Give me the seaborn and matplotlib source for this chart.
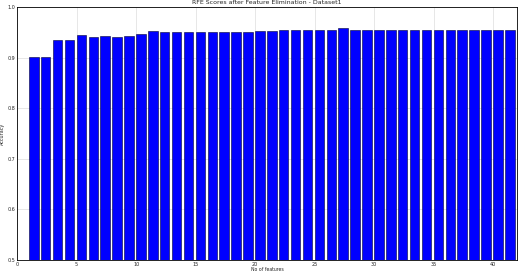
import matplotlib
matplotlib.use("Agg")
import matplotlib.pyplot as plt
import seaborn as sns
import numpy as np
import pandas as pd

n_features = list(range(1, 42))
scores = [0.902, 0.902, 0.934, 0.934, 0.945, 0.941, 0.943, 0.941, 0.943, 0.946,
          0.952, 0.950, 0.950, 0.950, 0.950, 0.950, 0.950, 0.950, 0.950, 0.953,
          0.953, 0.954, 0.954, 0.954, 0.954, 0.954, 0.958, 0.955, 0.955, 0.955,
          0.955, 0.955, 0.955, 0.955, 0.955, 0.955, 0.955, 0.955, 0.955, 0.955,
          0.955]
title = "RFE Scores after Feature Elimination - Dataset1"
xlabel = "No of features"
ylabel = "Accuracy"

sns.set_style("white")
plt.rcParams['font.family'] = ['DejaVu Sans']

bar_width = 0.8
df = pd.DataFrame({"features": n_features, "score": scores})
df["pos"] = df["features"] + bar_width / 2  # edge-aligned bars

fig = plt.figure(figsize=(5.19, 2.72), dpi=100)
ax = fig.add_axes([0.033, 0.044, 0.963, 0.930])
sns.barplot(data=df, x="pos", y="score", native_scale=True, width=bar_width,
            color="#0000ff", saturation=1, edgecolor="#000033", linewidth=0.4, ax=ax)

ax.set_xlim(0, 42)
ax.set_ylim(0.5, 1.0)
ax.set_xticks(range(0, 45, 5))
ax.set_yticks(np.arange(0.5, 1.01, 0.1))
ax.set_yticklabels([f"{v:.1f}" for v in np.arange(0.5, 1.01, 0.1)])
ax.grid(True, color="#dddddd", linewidth=0.5)
ax.set_axisbelow(True)
ax.tick_params(labelsize=3.5, direction="in", length=2, width=0.4, pad=1.2)
for s in ax.spines.values():
    s.set_linewidth(0.6)
    s.set_color("black")
ax.set_title(title, fontsize=4.5, pad=2)
ax.set_xlabel(xlabel, fontsize=3.3, labelpad=0.2)
ax.set_ylabel(ylabel, fontsize=3.5, labelpad=2)

fig.savefig("out.png", dpi=100)
